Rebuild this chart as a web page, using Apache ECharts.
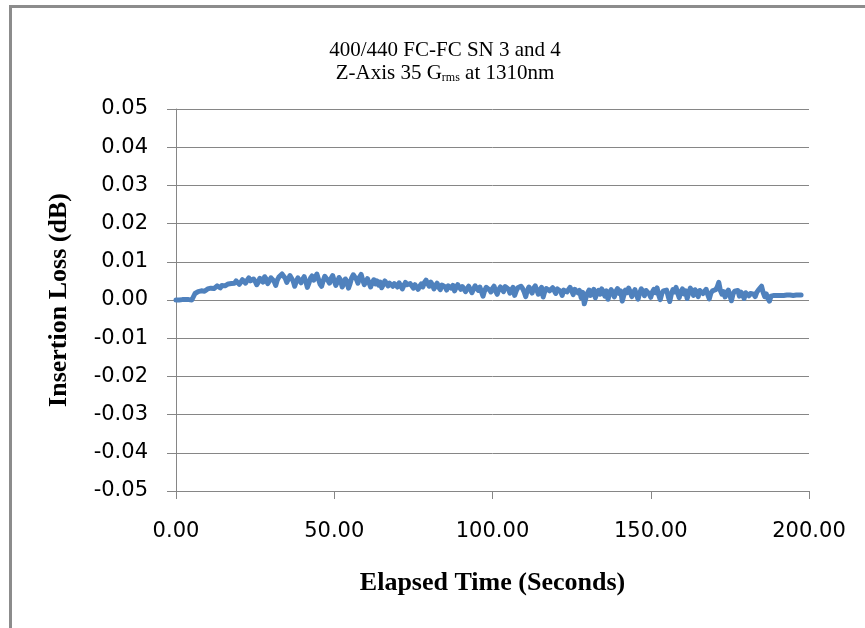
<!DOCTYPE html>
<html>
<head>
<meta charset="utf-8">
<title>Insertion Loss vs Elapsed Time</title>
<script src="https://cdn.jsdelivr.net/npm/echarts@6/dist/echarts.min.js"></script>
<style>
  html, body { margin: 0; padding: 0; background: #ffffff; }
  #chart { width: 865px; height: 628px; }
</style>
</head>
<body>
<div id="chart"></div>
<script>
// Sampling interval of the recorded trace (seconds)
const sampleStepSec = 0.5;

// Insertion loss readings (dB), one per sample, starting at t = 0 s (5 s per row)
const lossDb = [
  0.0000, 0.0001, 0.0000, 0.0000, 0.0001, 0.0000, 0.0001, 0.0000, 0.0001, 0.0000,
  0.0000, 0.0003, 0.0017, 0.0020, 0.0022, 0.0021, 0.0024, 0.0026, 0.0023, 0.0027,
  0.0029, 0.0026, 0.0031, 0.0034, 0.0030, 0.0033, 0.0037, 0.0034, 0.0032, 0.0038,
  0.0041, 0.0037, 0.0035, 0.0042, 0.0046, 0.0043, 0.0039, 0.0044, 0.0050, 0.0046,
  0.0041, 0.0047, 0.0053, 0.0049, 0.0044, 0.0052, 0.0058, 0.0050, 0.0045, 0.0055,
  0.0049, 0.0040, 0.0046, 0.0057, 0.0052, 0.0047, 0.0061, 0.0055, 0.0043, 0.0050,
  0.0058, 0.0063, 0.0049, 0.0038, 0.0052, 0.0060, 0.0055, 0.0068, 0.0071, 0.0057,
  0.0046, 0.0055, 0.0064, 0.0059, 0.0050, 0.0036, 0.0048, 0.0058, 0.0052, 0.0045,
  0.0054, 0.0061, 0.0049, 0.0033, 0.0044, 0.0057, 0.0063, 0.0052, 0.0059, 0.0068,
  0.0055, 0.0042, 0.0036, 0.0050, 0.0062, 0.0066, 0.0051, 0.0044, 0.0057, 0.0064,
  0.0050, 0.0038, 0.0047, 0.0059, 0.0052, 0.0034, 0.0041, 0.0055, 0.0049, 0.0031,
  0.0043, 0.0058, 0.0066, 0.0070, 0.0054, 0.0044, 0.0060, 0.0067, 0.0052, 0.0040,
  0.0048, 0.0056, 0.0045, 0.0034, 0.0046, 0.0053, 0.0042, 0.0050, 0.0039, 0.0047,
  0.0032, 0.0041, 0.0050, 0.0046, 0.0037, 0.0044, 0.0049, 0.0036, 0.0043, 0.0040,
  0.0034, 0.0045, 0.0041, 0.0029, 0.0038, 0.0046, 0.0040, 0.0035, 0.0043, 0.0037,
  0.0031, 0.0040, 0.0044, 0.0028, 0.0036, 0.0042, 0.0034, 0.0046, 0.0052, 0.0043,
  0.0036, 0.0047, 0.0040, 0.0029, 0.0038, 0.0044, 0.0033, 0.0027, 0.0039, 0.0043,
  0.0035, 0.0026, 0.0037, 0.0042, 0.0031, 0.0038, 0.0024, 0.0033, 0.0040, 0.0036,
  0.0028, 0.0035, 0.0039, 0.0022, 0.0030, 0.0036, 0.0033, 0.0019, 0.0028, 0.0037,
  0.0032, 0.0025, 0.0034, 0.0029, 0.0010, 0.0024, 0.0033, 0.0038, 0.0027, 0.0021,
  0.0030, 0.0036, 0.0023, 0.0015, 0.0028, 0.0034, 0.0031, 0.0022, 0.0035, 0.0040,
  0.0029, 0.0018, 0.0026, 0.0033, 0.0012, 0.0024, 0.0032, 0.0027, 0.0036, 0.0030,
  0.0021, 0.0009, 0.0025, 0.0034, 0.0029, 0.0018, 0.0031, 0.0037, 0.0026, 0.0015,
  0.0027, 0.0033, 0.0008, 0.0022, 0.0030, 0.0035, 0.0024, 0.0019, 0.0032, 0.0028,
  0.0017, 0.0029, 0.0034, 0.0023, 0.0012, 0.0026, 0.0031, 0.0021, 0.0027, 0.0033,
  0.0024, 0.0014, 0.0028, 0.0030, 0.0019, 0.0025, 0.0006, 0.0020, -0.0010, 0.0005,
  0.0018, 0.0026, 0.0012, 0.0022, 0.0028, 0.0006, 0.0019, 0.0025, 0.0015, 0.0029,
  0.0021, 0.0010, 0.0024, 0.0002, 0.0016, 0.0027, 0.0020, 0.0008, 0.0023, 0.0030,
  0.0017, 0.0024, -0.0003, 0.0012, 0.0026, 0.0019, 0.0031, 0.0022, 0.0009, 0.0020,
  0.0027, 0.0014, 0.0002, 0.0018, 0.0029, 0.0023, 0.0011, 0.0025, 0.0030, 0.0016,
  0.0007, 0.0021, 0.0028, 0.0019, 0.0032, 0.0013, 0.0001, 0.0017, 0.0024, 0.0020,
  0.0026, 0.0010, -0.0004, 0.0015, 0.0027, 0.0021, 0.0033, 0.0018, 0.0006, 0.0022,
  0.0029, 0.0016, 0.0024, 0.0004, 0.0019, 0.0031, 0.0023, 0.0012, 0.0027, 0.0020,
  0.0009, 0.0025, 0.0030, 0.0017, 0.0022, 0.0028, 0.0014, 0.0003, 0.0018, 0.0024,
  0.0019, 0.0027, 0.0034, 0.0046, 0.0025, 0.0015, 0.0022, 0.0008, 0.0020, 0.0026,
  0.0012, -0.0002, 0.0016, 0.0023, 0.0018, 0.0025, 0.0010, 0.0021, 0.0014, 0.0004,
  0.0019, 0.0024, 0.0011, 0.0017, 0.0022, 0.0015, 0.0009, 0.0020, 0.0026, 0.0030,
  0.0036, 0.0020, 0.0009, 0.0016, 0.0004, -0.0003, 0.0010, 0.0015, 0.0012, 0.0013,
  0.0012, 0.0013, 0.0012, 0.0013, 0.0012, 0.0013, 0.0013, 0.0012, 0.0013, 0.0013,
  0.0012, 0.0013, 0.0013, 0.0012, 0.0013, 0.0013
];

// Axis ranges and tick spacing
const xRange = [0, 200];
const xTickStep = 50;
const yRange = [-0.05, 0.05];
const yTickStep = 0.01;

// Chart texts
const titleLine1 = '400/440 FC-FC SN 3 and 4';
const titleLine2 = 'Z-Axis 35 G{sub|rms} at 1310nm';
const xAxisTitle = 'Elapsed Time (Seconds)';
const yAxisTitle = 'Insertion Loss (dB)';

const points = lossDb.map((v, i) => [i * sampleStepSec, v]);

const fmt2 = v => (Math.abs(v) < 1e-9 ? 0 : v).toFixed(2);

const axisGray = '#868686';
const tickFont = { fontFamily: 'DejaVu Sans', fontSize: 21, color: '#000000' };
const axisTitleFont = { fontFamily: 'Liberation Serif', fontWeight: 'bold', fontSize: 26, color: '#000000' };

const chart = echarts.init(document.getElementById('chart'), null, { renderer: 'canvas' });

chart.setOption({
  animation: false,
  backgroundColor: '#ffffff',
  graphic: [
    {
      type: 'rect',
      shape: { x: 10.5, y: 6.5, width: 900, height: 700 },
      style: { fill: 'none', stroke: '#8c8c8c', lineWidth: 3 },
      silent: true,
      z: -10
    }
  ],
  title: {
    text: titleLine1 + '\n' + titleLine2,
    left: 440,
    top: 34,
    textAlign: 'center',
    textStyle: {
      fontFamily: 'Liberation Serif',
      fontWeight: 'normal',
      fontSize: 21,
      lineHeight: 23,
      color: '#000000',
      rich: {
        sub: {
          fontFamily: 'Liberation Serif',
          fontSize: 12,
          lineHeight: 23,
          padding: [9, 0, 0, 0],
          color: '#000000'
        }
      }
    }
  },
  grid: {
    left: 176,
    right: 56,
    top: 109,
    bottom: 137,
    containLabel: false
  },
  xAxis: {
    type: 'value',
    min: xRange[0],
    max: xRange[1],
    interval: xTickStep,
    name: xAxisTitle,
    nameLocation: 'middle',
    nameGap: 79,
    nameTextStyle: axisTitleFont,
    axisLine: { onZero: false, lineStyle: { color: axisGray, width: 1 } },
    axisTick: { show: true, inside: false, length: 8, lineStyle: { color: axisGray } },
    axisLabel: Object.assign({ margin: 30, formatter: fmt2 }, tickFont),
    splitLine: { show: false }
  },
  yAxis: {
    type: 'value',
    min: yRange[0],
    max: yRange[1],
    interval: yTickStep,
    name: yAxisTitle,
    nameLocation: 'middle',
    nameGap: 104,
    nameRotate: 90,
    nameTextStyle: axisTitleFont,
    axisLine: { show: true, onZero: false, lineStyle: { color: axisGray, width: 1 } },
    axisTick: { show: true, inside: false, length: 9, lineStyle: { color: axisGray } },
    axisLabel: Object.assign({ margin: 28, formatter: fmt2 }, tickFont),
    splitLine: { show: true, lineStyle: { color: axisGray, width: 1 } }
  },
  series: [
    {
      type: 'line',
      data: points,
      showSymbol: false,
      smooth: false,
      lineStyle: { color: '#4F81BD', width: 5, join: 'round', cap: 'round' },
      itemStyle: { color: '#4F81BD' },
      z: 5
    }
  ]
});
</script>
</body>
</html>
